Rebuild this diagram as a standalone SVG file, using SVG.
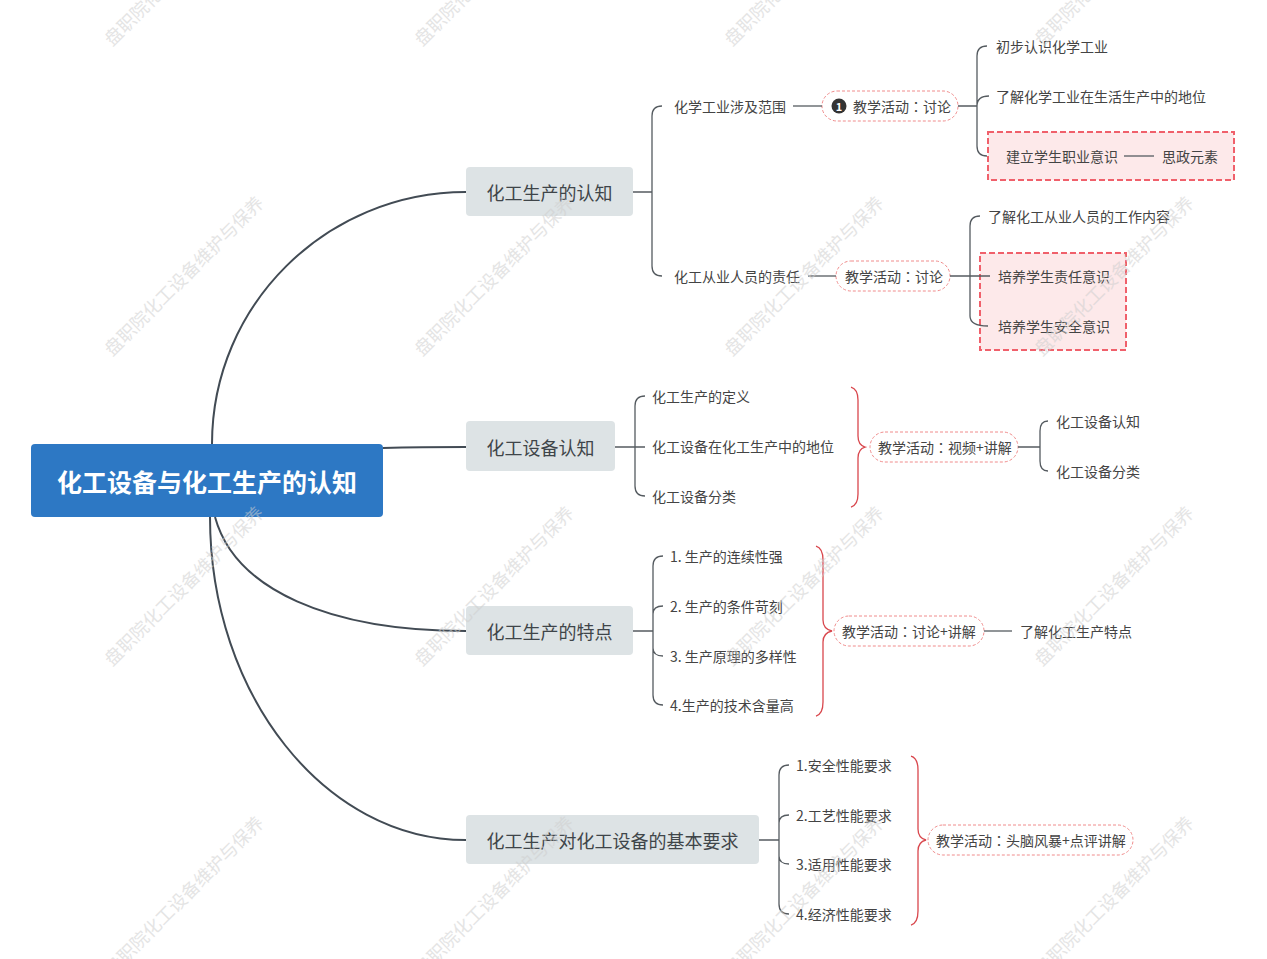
<svg xmlns="http://www.w3.org/2000/svg" width="1267" height="959" viewBox="0 0 1267 959">
<defs>
<style>
text{font-family:"Noto Sans CJK SC","Noto Sans",sans-serif;dominant-baseline:central}
.c{font-family:"Noto Sans CJK TC","Noto Sans CJK SC",sans-serif}
.root{fill:#2d78c4}
.rootT{fill:#fff;font-size:25px;font-weight:bold;text-anchor:middle}
.topic{fill:#dde3e5}
.topicT{fill:#3f4549;font-size:18px;text-anchor:middle}
.sub{fill:#444;font-size:14px}
.pill{fill:#fff;stroke:#f08c8c;stroke-width:1;stroke-dasharray:3,2}
.box{fill:#fde9ea;stroke:#f0606b;stroke-width:2;stroke-dasharray:6,3}
.main{fill:none;stroke:#424b54;stroke-width:2}
.ln{fill:none;stroke:#555b60;stroke-width:1.3}
.red{fill:none;stroke:#d9474d;stroke-width:1.3}
.wm{fill:#cfcfcf;opacity:0.55;font-size:18px;text-anchor:middle}
</style>
</defs>
<rect width="1267" height="959" fill="#fff"/>

<g id="root">
<rect class="root" x="31" y="444" width="352" height="73" rx="4"/>
<text class="rootT" x="207" y="481">化工设备与化工生产的认知</text>
</g>

<g id="t1">
<rect class="topic" x="466" y="167" width="167" height="49" rx="4"/>
<text class="topicT" x="549.5" y="192">化工生产的认知</text>
</g>
<g id="t1a"><text class="sub" x="674" y="106">化学工业涉及范围</text></g>
<g id="t1a-act">
<rect class="pill" x="822" y="91" width="136" height="30" rx="15"/>
<circle cx="839" cy="106" r="7.5" fill="#333"/>
<text x="839" y="106" fill="#fff" font-size="11" font-weight="bold" text-anchor="middle">1</text>
<text class="sub" x="853" y="106">教学活动<tspan class="c">：</tspan>讨论</text>
</g>
<g id="t1a1"><text class="sub" x="996" y="46">初步认识化学工业</text></g>
<g id="t1a2"><text class="sub" x="996" y="96">了解化学工业在生活生产中的地位</text></g>
<g id="t1a3">
<rect class="box" x="988" y="132" width="246" height="48"/>
<text class="sub" x="1006" y="156">建立学生职业意识</text>
</g>
<g id="t1a3a"><text class="sub" x="1162" y="156">思政元素</text></g>

<g id="t1b"><text class="sub" x="674" y="276">化工从业人员的责任</text></g>
<g id="t1b-act">
<rect class="pill" x="836" y="261" width="114" height="30" rx="15"/>
<text class="sub" x="845" y="276">教学活动<tspan class="c">：</tspan>讨论</text>
</g>
<g id="t1b1"><text class="sub" x="988" y="216">了解化工从业人员的工作内容</text></g>
<g id="t1b-box"><rect class="box" x="980" y="253" width="146" height="97"/></g>
<g id="t1b2"><text class="sub" x="998" y="276">培养学生责任意识</text></g>
<g id="t1b3"><text class="sub" x="998" y="326">培养学生安全意识</text></g>

<g id="t2">
<rect class="topic" x="466" y="421" width="149" height="50" rx="4"/>
<text class="topicT" x="540.5" y="447">化工设备认知</text>
</g>
<g id="t2a"><text class="sub" x="652" y="396">化工生产的定义</text></g>
<g id="t2b"><text class="sub" x="652" y="446">化工设备在化工生产中的地位</text></g>
<g id="t2c"><text class="sub" x="652" y="496">化工设备分类</text></g>
<g id="t2-act">
<rect class="pill" x="870" y="432" width="148" height="30" rx="15"/>
<text class="sub" x="878" y="447">教学活动<tspan class="c">：</tspan>视频+讲解</text>
</g>
<g id="t2d"><text class="sub" x="1056" y="421">化工设备认知</text></g>
<g id="t2e"><text class="sub" x="1056" y="471">化工设备分类</text></g>

<g id="t3">
<rect class="topic" x="466" y="606" width="167" height="49" rx="4"/>
<text class="topicT" x="549.5" y="631">化工生产的特点</text>
</g>
<g id="t3a"><text class="sub" x="670" y="556">1. 生产的连续性强</text></g>
<g id="t3b"><text class="sub" x="670" y="606">2. 生产的条件苛刻</text></g>
<g id="t3c"><text class="sub" x="670" y="656">3. 生产原理的多样性</text></g>
<g id="t3d"><text class="sub" x="670" y="705">4.生产的技术含量高</text></g>
<g id="t3-act">
<rect class="pill" x="834" y="616" width="150" height="30" rx="15"/>
<text class="sub" x="842" y="631">教学活动<tspan class="c">：</tspan>讨论+讲解</text>
</g>
<g id="t3e"><text class="sub" x="1020" y="631">了解化工生产特点</text></g>

<g id="t4">
<rect class="topic" x="466" y="815" width="293" height="49" rx="4"/>
<text class="topicT" x="612.5" y="840">化工生产对化工设备的基本要求</text>
</g>
<g id="t4a"><text class="sub" x="796" y="765">1.安全性能要求</text></g>
<g id="t4b"><text class="sub" x="796" y="815">2.工艺性能要求</text></g>
<g id="t4c"><text class="sub" x="796" y="864">3.适用性能要求</text></g>
<g id="t4d"><text class="sub" x="796" y="914">4.经济性能要求</text></g>
<g id="t4-act">
<rect class="pill" x="928" y="825" width="205" height="30" rx="15"/>
<text class="sub" x="936" y="840">教学活动<tspan class="c">：</tspan>头脑风暴+点评讲解</text>
</g>

<g id="connectors">
<path class="main" d="M212,444 C212,305 326,192 466,192"/>
<path class="main" d="M383,448 C420,447 440,447 466,447"/>
<path class="main" d="M215,517 C235,590 330,631 466,631"/>
<path class="main" d="M210,517 C210,695 325,840 466,840"/>

<path class="ln" d="M633,192 H652 M652,192 V116 Q652,106 662,106 M652,192 V266 Q652,276 662,276"/>
<path class="ln" d="M793,106 H822"/>
<path class="ln" d="M958,106 H977 M977,106 V56 Q977,46 987,46 M977,106 Q977,96 989,96 M977,106 V146 Q977,156 987,156"/>
<path class="ln" d="M1124,156 H1154"/>
<path class="ln" d="M808,276 H836"/>
<path class="ln" d="M950,276 H990 M970,276 V226 Q970,216 980,216 M970,276 V316 Q970,326 988,326"/>

<path class="ln" d="M615,447 H645 M635,447 V406 Q635,396 645,396 M635,447 V486 Q635,496 645,496"/>
<path class="red" d="M851,387 Q858,389 858,400 V436 Q858,445 865,447 Q858,449 858,458 V494 Q858,505 851,507"/>
<path class="ln" d="M1018,447 H1040 M1040,447 V431 Q1040,421 1048,421 M1040,447 V461 Q1040,471 1048,471"/>

<path class="ln" d="M633,631 H653 M653,631 V566 Q653,556 663,556 M653,631 V614 Q653,606 663,606 M653,631 V648 Q653,656 663,656 M653,631 V695 Q653,705 663,705"/>
<path class="red" d="M816,546 Q823,548 823,560 V620 Q823,629 832,631 Q823,633 823,642 V702 Q823,714 816,716"/>
<path class="ln" d="M984,631 H1012"/>

<path class="ln" d="M759,840 H779 M779,840 V775 Q779,765 789,765 M779,840 V823 Q779,815 789,815 M779,840 V856 Q779,864 789,864 M779,840 V904 Q779,914 789,914"/>
<path class="red" d="M911,756 Q918,758 918,770 V829 Q918,838 926,840 Q918,842 918,851 V911 Q918,923 911,925"/>
</g>

<g id="watermarks">
<text class="wm" transform="translate(183,-35) rotate(-45)">盘职院化工设备维护与保养</text>
<text class="wm" transform="translate(493,-35) rotate(-45)">盘职院化工设备维护与保养</text>
<text class="wm" transform="translate(803,-35) rotate(-45)">盘职院化工设备维护与保养</text>
<text class="wm" transform="translate(1113,-35) rotate(-45)">盘职院化工设备维护与保养</text>
<text class="wm" transform="translate(183,275) rotate(-45)">盘职院化工设备维护与保养</text>
<text class="wm" transform="translate(493,275) rotate(-45)">盘职院化工设备维护与保养</text>
<text class="wm" transform="translate(803,275) rotate(-45)">盘职院化工设备维护与保养</text>
<text class="wm" transform="translate(1113,275) rotate(-45)">盘职院化工设备维护与保养</text>
<text class="wm" transform="translate(183,585) rotate(-45)">盘职院化工设备维护与保养</text>
<text class="wm" transform="translate(493,585) rotate(-45)">盘职院化工设备维护与保养</text>
<text class="wm" transform="translate(803,585) rotate(-45)">盘职院化工设备维护与保养</text>
<text class="wm" transform="translate(1113,585) rotate(-45)">盘职院化工设备维护与保养</text>
<text class="wm" transform="translate(183,895) rotate(-45)">盘职院化工设备维护与保养</text>
<text class="wm" transform="translate(493,895) rotate(-45)">盘职院化工设备维护与保养</text>
<text class="wm" transform="translate(803,895) rotate(-45)">盘职院化工设备维护与保养</text>
<text class="wm" transform="translate(1113,895) rotate(-45)">盘职院化工设备维护与保养</text>
</g>
</svg>
